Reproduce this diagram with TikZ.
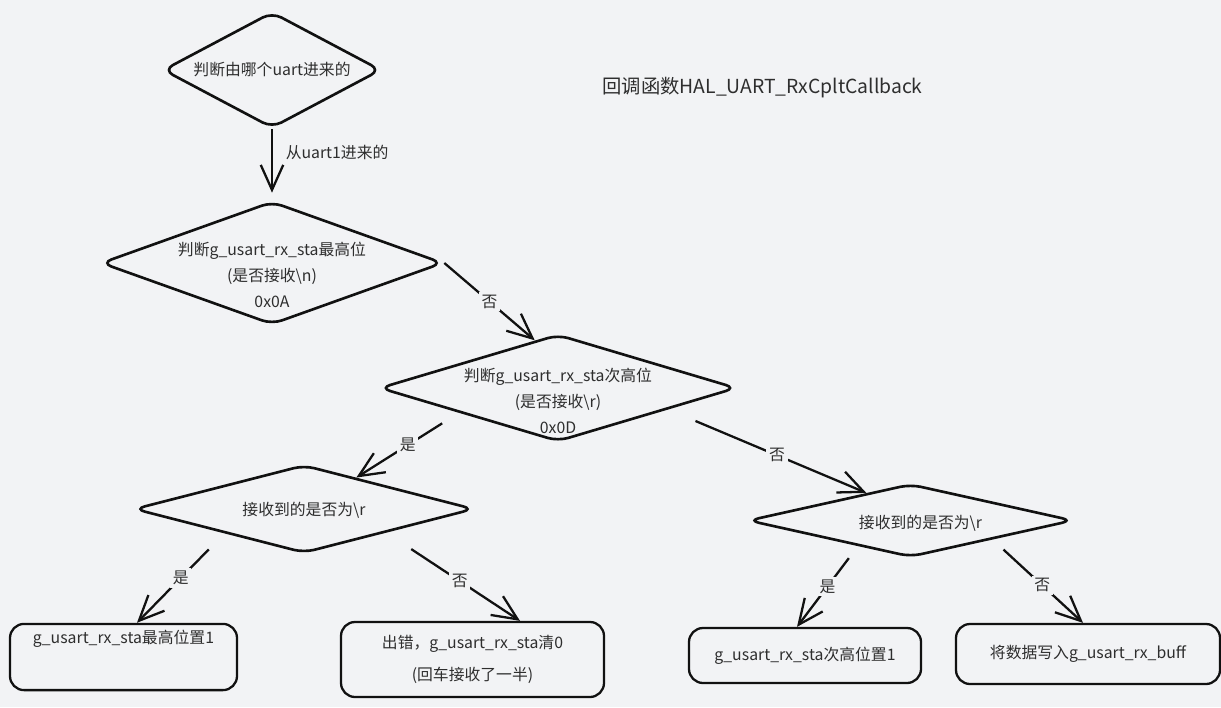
\documentclass[tikz,border=0pt]{standalone}
\usepackage{fontspec}
\setmainfont{Noto Sans CJK SC}
\usetikzlibrary{shapes.geometric,arrows.meta}
\definecolor{fondo}{HTML}{F2F3F5}
\definecolor{tinta}{HTML}{2E2E2E}
\definecolor{trazo}{HTML}{111111}

\begin{document}
\begin{tikzpicture}[
	decision/.style={draw=trazo,diamond,line width=1.5pt,rounded corners=6pt,inner sep=0pt},
	caja/.style={draw=trazo,rectangle,line width=1.3pt,rounded corners=8pt,text=tinta,font=\fontsize{9}{18}\selectfont,align=center},
	texto/.style={text=tinta,font=\fontsize{9}{15}\selectfont,align=center},
	flecha/.style={draw=trazo,line width=1.3pt,-{Straight Barb[length=5mm,width=4.5mm]}},
	etiqueta/.style={fill=fondo,text=tinta,font=\fontsize{9}{11}\selectfont,inner sep=1.5pt}
	]
	
		%Fondo
		\fill[fondo] (0,0) rectangle (24.42,-14.14);
		\useasboundingbox (0,0) rectangle (24.42,-14.14);
		
		%Titulo
		\node[text=tinta,font=\fontsize{11}{13}\selectfont] (titulo) at (15.25,-1.76) {回调函数HAL\_UART\_RxCpltCallback};
		
		%Rombos de decision
		\node[decision,minimum width=4.36cm,minimum height=2.32cm] (whichuart) at (5.44,-1.40) {};
		\node[decision,minimum width=6.84cm,minimum height=2.46cm] (bit15) at (5.44,-5.26) {};
		\node[decision,minimum width=7.14cm,minimum height=2.14cm] (bit14) at (11.16,-7.76) {};
		\node[decision,minimum width=6.80cm,minimum height=1.76cm] (gotcr) at (6.08,-10.18) {};
		\node[decision,minimum width=6.50cm,minimum height=1.46cm] (gotcr2) at (18.21,-10.41) {};
		
		%Textos de los rombos
		\node[texto] (whichuart-t) at (whichuart) {判断由哪个uart进来的};
		\node[texto] (bit15-t) at ([yshift=-0.24cm]bit15) {判断g\_usart\_rx\_sta最高位\\(是否接收\textbackslash n)\\0x0A};
		\node[texto] (bit14-t) at ([yshift=-0.26cm]bit14) {判断g\_usart\_rx\_sta次高位\\(是否接收\textbackslash r)\\0x0D};
		\node[texto] (gotcr-t) at ([yshift=-0.02cm]gotcr) {接收到的是否为\textbackslash r};
		\node[texto] (gotcr2-t) at ([xshift=0.2cm,yshift=-0.05cm]gotcr2) {接收到的是否为\textbackslash r};
		
		%Cajas finales
		\node[caja,minimum width=4.54cm,minimum height=1.24cm] (set15) at (2.47,-13.14) {g\_usart\_rx\_sta最高位置1\\\strut};
		\node[caja,minimum width=5.26cm,minimum height=1.50cm] (err) at (9.45,-13.19) {出错，g\_usart\_rx\_sta清0\\(回车接收了一半)};
		\node[caja,minimum width=4.64cm,minimum height=1.10cm] (set14) at (16.10,-13.11) {g\_usart\_rx\_sta次高位置1};
		\node[caja,minimum width=5.28cm,minimum height=1.20cm] (store) at (21.76,-13.08) {将数据写入g\_usart\_rx\_buff};
		
		%Flechas
		\draw[flecha,shorten >=0.15cm] (whichuart.south) -- (bit15.north)
			node[etiqueta,right,pos=0.33,xshift=0.2cm] {从uart1进来的};
		\draw[flecha] (bit15.east) -- (bit14.116) node[etiqueta,midway] {否};
		\draw[flecha,shorten <=0.4cm] (bit14.194) -- (gotcr.31) node[etiqueta,midway] {是};
		\draw[flecha,shorten <=0.6cm] (bit14.349) -- (gotcr2.148) node[etiqueta,pos=0.55] {否};
		\draw[flecha,shorten <=0.45cm] (gotcr.197) -- ([xshift=0.27cm]set15.north) node[etiqueta,midway] {是};
		\draw[flecha,shorten <=0.6cm] (gotcr.344) -- ([xshift=0.95cm]err.north) node[etiqueta,pos=0.55] {否};
		\draw[flecha,shorten <=0.3cm] (gotcr2.206) -- ([xshift=-0.16cm]set14.north) node[etiqueta,midway] {是};
		\draw[flecha,shorten <=0.3cm] (gotcr2.347) -- ([xshift=-0.1cm]store.north) node[etiqueta,pos=0.55] {否};
	
\end{tikzpicture}
\end{document}
